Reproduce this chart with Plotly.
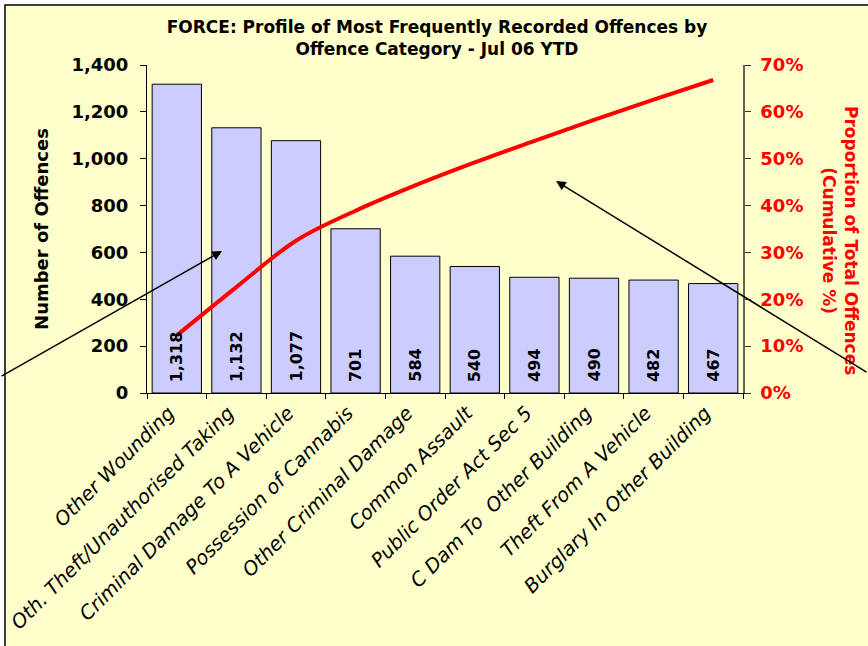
import plotly.graph_objects as go

categories = ["Other Wounding", "Oth. Theft/Unauthorised Taking", "Criminal Damage To A Vehicle",
              "Possession of Cannabis", "Other Criminal Damage", "Common Assault",
              "Public Order Act Sec 5", "C Dam To  Other Building", "Theft From A Vehicle",
              "Burglary In Other Building"]
offences = [1318, 1132, 1077, 701, 584, 540, 494, 490, 482, 467]
cumulative_pct = [12.3, 22.6, 32.5, 38.9, 44.3, 49.2, 53.8, 58.3, 62.6, 66.8]
left_ticks = [0, 200, 400, 600, 800, 1000, 1200, 1400]
right_ticks = [0, 10, 20, 30, 40, 50, 60, 70]
right_labels = ["0%", "10%", "20%", "30%", "40%", "50%", "60%", "70%"]

W, H = 868, 646
L, R, T, B = 147, 743, 65, 393

def px(x):
    return (x - L) / (R - L)

def py(y):
    return (B - y) / (B - T)

BG = "#FFFFCC"
FONT = "DejaVu Sans"

fig = go.Figure()
fig.add_trace(go.Bar(
    x=categories, y=offences,
    marker=dict(color="#CCCCFF", line=dict(color="black", width=1)),
    showlegend=False,
))
fig.add_trace(go.Scatter(
    x=categories, y=cumulative_pct, yaxis="y2", mode="lines",
    line=dict(color="#FF0000", width=4, shape="spline"), showlegend=False,
))

annotations = [
    dict(text=f"{v:,}", x=c, y=0, xref="x", yref="y", textangle=-90,
         xanchor="center", yanchor="bottom", yshift=9, showarrow=False,
         font=dict(family=FONT, size=16, color="black", weight="bold"))
    for c, v in zip(categories, offences)
]
annotations += [
    dict(text="Proportion of Total Offences<br>(Cumulative %)", textangle=90,
         xref="paper", yref="paper", x=px(840), y=py(240), xanchor="center", yanchor="middle",
         showarrow=False,
         font=dict(family=FONT, size=17, color="#FF0000", weight="bold")),
    dict(text="", xref="paper", yref="paper", x=px(222), y=py(251), ax=-222, ay=126,
         showarrow=True, arrowhead=2, arrowsize=1.3, arrowwidth=1.5, arrowcolor="black"),
    dict(text="", xref="paper", yref="paper", x=px(556), y=py(181), ax=312, ay=192,
         showarrow=True, arrowhead=2, arrowsize=1.3, arrowwidth=1.5, arrowcolor="black"),
]

fig.update_layout(
    width=W, height=H,
    margin=dict(l=L, r=W - R, t=T, b=H - B, autoexpand=False),
    paper_bgcolor="white", plot_bgcolor="rgba(0,0,0,0)",
    bargap=0.173,
    title=dict(text="FORCE: Profile of Most Frequently Recorded Offences by<br>Offence Category - Jul 06 YTD",
               x=px(437), xanchor="center", xref="paper", y=1 - 33 / H, yanchor="middle",
               font=dict(family=FONT, size=17, color="black", weight="bold")),
    xaxis=dict(showline=True, linecolor="black", linewidth=1, ticks="outside", ticklen=5,
               tickcolor="black", tickson="boundaries", tickangle=-45, ticklabelshift=-8,
               automargin=False,
               tickfont=dict(family=FONT, size=19.5, color="black", style="italic"),
               showgrid=False, zeroline=False),
    yaxis=dict(range=[0, 1400], tickvals=left_ticks, tickformat=",", showline=True,
               linecolor="black", linewidth=1, ticks="outside", ticklen=6, tickcolor="black",
               ticklabelstandoff=8, automargin=False,
               tickfont=dict(family=FONT, size=18, color="black", weight="bold"),
               showgrid=False, zeroline=False,
               title=dict(text="Number of Offences", standoff=18,
                          font=dict(family=FONT, size=18, color="black", weight="bold"))),
    yaxis2=dict(range=[0, 70], tickmode="array", tickvals=right_ticks, ticktext=right_labels,
                overlaying="y", side="right", automargin=False,
                showline=True, linecolor="#666655", linewidth=1.5, ticks="outside", ticklen=6,
                tickcolor="#333333", showgrid=False, zeroline=False, ticklabelstandoff=6,
                tickfont=dict(family=FONT, size=18, color="#FF0000", weight="bold")),
    shapes=[dict(type="rect", xref="paper", yref="paper", layer="below",
                 x0=px(5), y0=py(700), x1=px(900), y1=py(5),
                 fillcolor=BG, line=dict(color="black", width=1.5))],
    annotations=annotations,
)

fig.write_html("out.html", config={"displayModeBar": False},
               post_script="document.body.style.margin='0px';")
